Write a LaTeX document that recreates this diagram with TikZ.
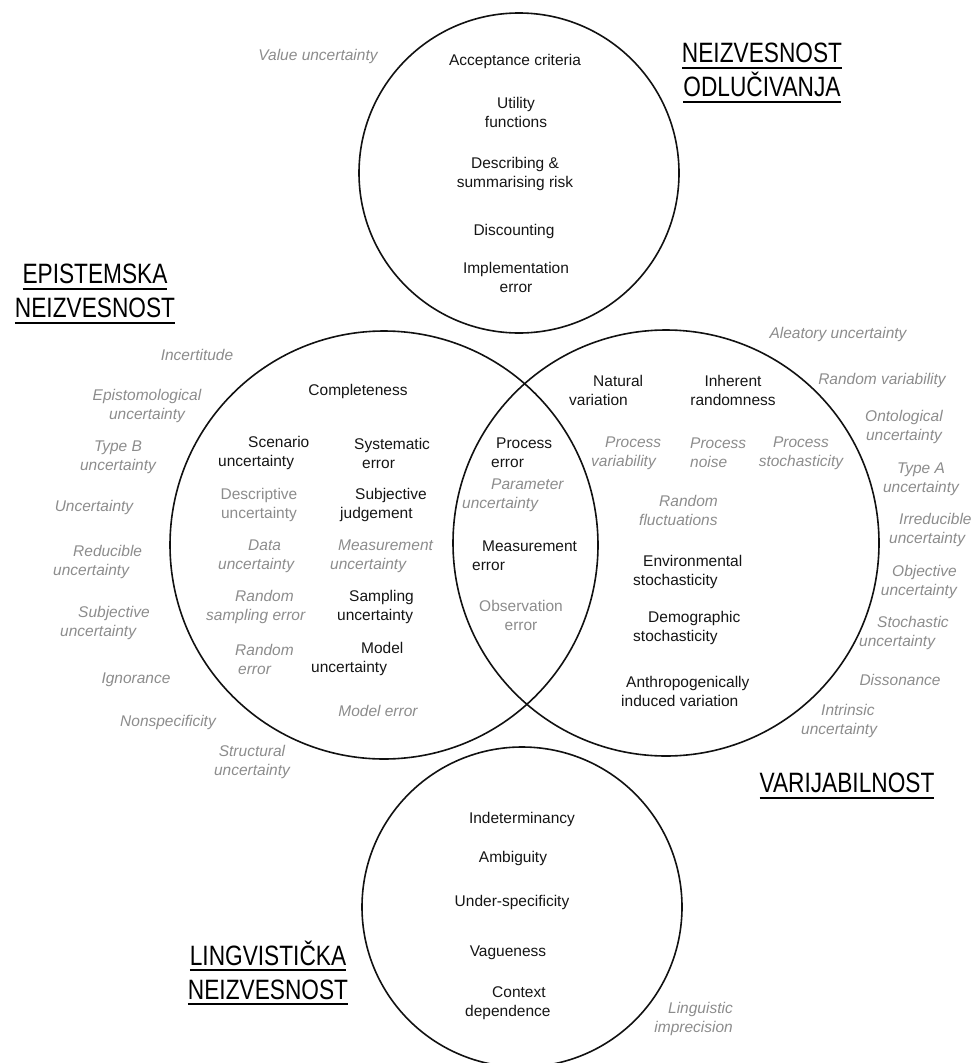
\documentclass[tikz,border=0pt]{standalone}
\usepackage{fontspec}
\setmainfont{Liberation Sans}
\usepackage{graphicx}

\definecolor{termgray}{HTML}{8C8C8C}
\definecolor{termblack}{HTML}{151515}
\definecolor{ringcol}{HTML}{111111}

% underlined, condensed heading line
\newcommand{\headline}[1]{\leavevmode\scalebox{0.81}[1]{\vtop{\hbox{#1}\kern3.5pt\hrule height 2pt}}}
\newcommand{\termsize}{\fontsize{15.5}{19}\selectfont}

\tikzset{
  ring/.style={circle, draw=ringcol, line width=1.6pt, inner sep=0pt},
  term/.style={font=\termsize, text=termblack, inner sep=0pt, align=center},
  alt/.style={font=\termsize\itshape, text=termgray, inner sep=0pt, align=center},
  altup/.style={font=\termsize, text=termgray, inner sep=0pt, align=center},
  lft/.style={anchor=west, align=left},
  rgt/.style={anchor=east, align=right},
  heading/.style={font=\fontsize{28}{34}\selectfont, text=black, inner sep=0pt, align=center}
}

\begin{document}
\begin{tikzpicture}[x=1pt,y=-1pt]
\useasboundingbox (0,0) rectangle (972,1063);

% the four sets
\node[ring, minimum size=320pt] (decision) at (519,173) {};
\node[ring, minimum size=428pt] (epistemic) at (384,545) {};
\node[ring, minimum size=426pt] (variability) at (666,543) {};
\node[ring, minimum size=320pt] (linguistic) at (522,907) {};

% headings
\node[heading] (hdec) at (762,73) {\headline{NEIZVESNOST}\\\headline{ODLUČIVANJA}};
\node[heading] (hepi) at (95,294) {\headline{EPISTEMSKA}\\\headline{NEIZVESNOST}};
\node[heading] (hvar) at (847,786) {\headline{VARIJABILNOST}};
\node[heading] (hlin) at (268,973) {\headline{LINGVISTIČKA}\\\headline{NEIZVESNOST}};

% decision uncertainty
\node[alt] (value) at (318,56) {Value uncertainty};
\node[term] (accept) at (515,61) {Acceptance criteria};
\node[term] (utility) at (516,112) {Utility\\functions};
\node[term] (describe) at (515,174) {Describing \&\\summarising risk};
\node[term] (discount) at (514,231) {Discounting};
\node[term] (implement) at (516,277) {Implementation\\error};

% epistemic uncertainty: synonyms outside
\node[alt] (incert) at (197,355) {Incertitude};
\node[alt] (epistem) at (147,406) {Epistomological\\uncertainty};
\node[alt] (typeb) at (118,457) {Type B\\uncertainty};
\node[alt] (uncert) at (94,507) {Uncertainty};
\node[alt, lft] (reduc) at (53,562) {\hspace*{20pt}Reducible\\uncertainty};
\node[alt, lft] (subjunc) at (60,623) {\hspace*{18pt}Subjective\\uncertainty};
\node[alt] (ignor) at (136,680) {Ignorance};
\node[alt] (nonspec) at (168,722) {Nonspecificity};
\node[alt] (struct) at (252,762) {Structural\\uncertainty};

% epistemic uncertainty: sources inside
\node[term] (complete) at (358,391) {Completeness};
\node[term, lft] (scen) at (218,453) {\hspace*{30pt}Scenario\\uncertainty};
\node[term, lft] (syst) at (354,453) {Systematic\\\hspace*{8pt}error};
\node[altup] (descr) at (259,505) {Descriptive\\uncertainty};
\node[term, lft] (subjj) at (340,505) {\hspace*{15pt}Subjective\\judgement};
\node[alt, lft] (data) at (218,556) {\hspace*{30pt}Data\\uncertainty};
\node[alt, lft] (measunc) at (330,556) {\hspace*{8pt}Measurement\\uncertainty};
\node[alt, lft] (rse) at (206,607) {\hspace*{29pt}Random\\sampling error};
\node[term, lft] (sampl) at (337,607) {\hspace*{12pt}Sampling\\uncertainty};
\node[alt, lft] (rerr) at (235,659) {Random\\\hspace*{3pt}error};
\node[term, lft] (model) at (311,659) {\hspace*{50pt}Model\\uncertainty};
\node[alt] (merr) at (378,711) {Model error};

% overlap of epistemic uncertainty and variability
\node[term, lft] (perr) at (491,453) {\hspace*{5pt}Process\\error};
\node[alt, lft] (param) at (462,495) {\hspace*{29pt}Parameter\\uncertainty};
\node[term, lft] (measerr) at (472,556) {\hspace*{10pt}Measurement\\error};
\node[altup] (obs) at (521,615) {Observation\\error};

% variability: synonyms outside
\node[alt] (aleat) at (838,334) {Aleatory uncertainty};
\node[alt] (randvar) at (882,380) {Random variability};
\node[alt] (onto) at (904,427) {Ontological\\uncertainty};
\node[alt] (typea) at (921,479) {Type A\\uncertainty};
\node[alt, lft] (irred) at (889,530) {\hspace*{10pt}Irreducible\\uncertainty};
\node[alt, rgt] (objunc) at (957,582) {Objective\\uncertainty};
\node[alt, lft] (stochunc) at (859,633) {\hspace*{18pt}Stochastic\\uncertainty};
\node[alt] (disson) at (900,680) {Dissonance};
\node[alt, lft] (intr) at (801,721) {\hspace*{20pt}Intrinsic\\uncertainty};

% variability: sources inside
\node[term, lft] (natvar) at (569,390) {\hspace*{24pt}Natural\\variation};
\node[term] (inher) at (733,390) {Inherent\\randomness};
\node[alt, lft] (pvar) at (591,453) {\hspace*{14pt}Process\\variability};
\node[alt, lft] (pnoise) at (690,453) {Process\\noise};
\node[alt] (pstoch) at (801,453) {Process\\stochasticity};
\node[alt, lft] (randfl) at (639,510) {\hspace*{20pt}Random\\fluctuations};
\node[term, lft] (envst) at (633,572) {\hspace*{10pt}Environmental\\stochasticity};
\node[term, lft] (demst) at (633,628) {\hspace*{15pt}Demographic\\stochasticity};
\node[term, lft] (anthro) at (621,691) {\hspace*{5pt}Anthropogenically\\induced variation};

% linguistic uncertainty
\node[term] (indet) at (522,819) {Indeterminancy};
\node[term] (ambig) at (513,858) {Ambiguity};
\node[term] (underspec) at (512,902) {Under-specificity};
\node[term] (vague) at (508,953) {Vagueness};
\node[term, lft] (context) at (465,1003) {\hspace*{27pt}Context\\dependence};
\node[alt, rgt] (lingimp) at (733,1019) {Linguistic\\imprecision};
\end{tikzpicture}
\end{document}
